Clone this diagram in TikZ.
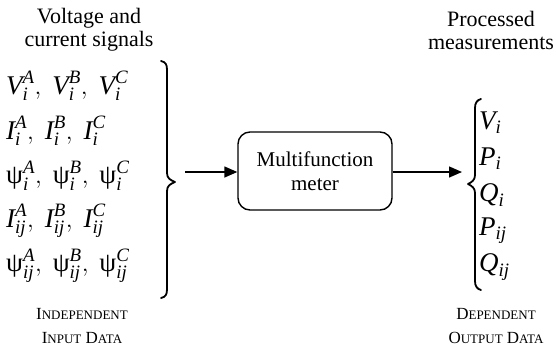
\documentclass[tikz,border=0pt]{standalone}
\usepackage{amsmath}
\usepackage{fontspec}
\setmainfont{Liberation Serif}
\newfontfamily\tnr{Liberation Serif}
\usetikzlibrary{arrows.meta}
% italic variable with sub- and superscript, set in the text face
\newcommand{\qv}[3]{\text{\itshape #1}_{\text{\itshape #2}}^{\text{\itshape #3}}}
\newcommand{\qs}[2]{\text{\itshape #1}_{\text{\itshape #2}}}
\newcommand{\psiv}[2]{\text{\tnr ψ}_{\text{\itshape #1}}^{\text{\itshape #2}}}
% capitals with a larger initial
\newcommand{\fakesc}[2]{{\fontsize{17}{20}\selectfont #1}{\fontsize{13}{20}\selectfont #2}}
\begin{document}
\begin{tikzpicture}[x=1pt,y=-1pt,
  title/.style={align=center,font=\tnr\fontsize{22}{23}\selectfont,inner sep=0pt},
  mrow/.style={anchor=west,font=\tnr\fontsize{27}{30}\selectfont,inner sep=0pt},
  caption/.style={align=center,inner sep=0pt,font=\tnr\fontsize{17}{24}\selectfont},
  meter/.style={draw,line width=1.4pt,rounded corners=12pt,minimum width=154pt,minimum height=78pt,align=center,font=\tnr\fontsize{21}{24}\selectfont},
  flow/.style={line width=1.4pt,-{Triangle[length=13pt,width=11pt]}},
  bracepath/.style={line width=1.8pt,line cap=round,line join=round}]
\useasboundingbox (0,0) rectangle (556,354);

% headings
\node[title] (intitle) at (89,30) {Voltage and\\current signals};
\node[title] (outtitle) at (491,30) {Processed\\measurements};

% input quantities
\node[mrow] (r1) at (6,86)  {$\qv{V}{i}{A},\ \qv{V}{i}{B},\ \qv{V}{i}{C}$};
\node[mrow] (r2) at (6,131) {$\qv{I}{i}{A},\ \qv{I}{i}{B},\ \qv{I}{i}{C}$};
\node[mrow] (r3) at (6,176) {$\psiv{i}{A},\ \psiv{i}{B},\ \psiv{i}{C}$};
\node[mrow] (r4) at (6,221) {$\qv{I}{ij}{A},\ \qv{I}{ij}{B},\ \qv{I}{ij}{C}$};
\node[mrow] (r5) at (6,266) {$\psiv{ij}{A},\ \psiv{ij}{B},\ \psiv{ij}{C}$};

% input brace
\draw[bracepath] (161,61) .. controls (166,62) and (167,65) .. (167,70)
  -- (167,173) .. controls (167,178) and (170,180) .. (175,182)
  .. controls (170,184) and (167,186) .. (167,191)
  -- (167,289) .. controls (167,294) and (166,297) .. (161,298);
\coordinate (intip) at (185,172);

% meter
\node[meter] (mf) at (315,171) {Multifunction\\meter};

% output brace
\draw[bracepath] (481,99) .. controls (477,100) and (475,103) .. (475,108)
  -- (475,175) .. controls (475,180) and (472,182) .. (468,184)
  .. controls (472,186) and (475,188) .. (475,193)
  -- (475,281) .. controls (475,286) and (477,289) .. (481,290);
\coordinate (outtip) at (462,172);

% output quantities
\node[mrow] (o1) at (479,123) {$\qs{V}{i}$};
\node[mrow] (o2) at (479,159) {$\qs{P}{i}$};
\node[mrow] (o3) at (479,195) {$\qs{Q}{i}$};
\node[mrow] (o4) at (479,231) {$\qs{P}{ij}$};
\node[mrow] (o5) at (479,267) {$\qs{Q}{ij}$};

% arrows
\draw[flow] (intip) -- (intip -| mf.west);
\draw[flow] (outtip -| mf.east) -- (outtip);

% captions
\node[caption] (incap) at (82,326) {\fakesc{I}{NDEPENDENT}\\\fakesc{I}{NPUT} \fakesc{D}{ATA}};
\node[caption] (outcap) at (496,326) {\fakesc{D}{EPENDENT}\\\fakesc{O}{UTPUT} \fakesc{D}{ATA}};
\end{tikzpicture}
\end{document}
